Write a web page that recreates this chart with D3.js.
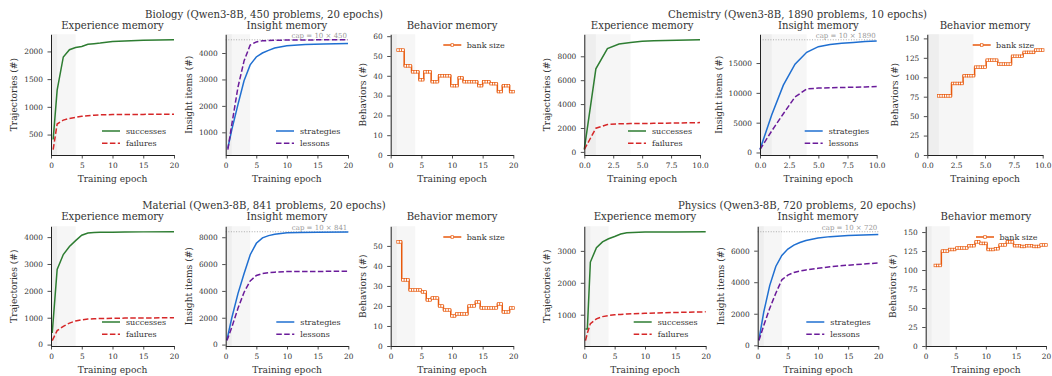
<!DOCTYPE html>
<html>
<head>
<meta charset="utf-8">
<script src="https://cdn.jsdelivr.net/npm/d3@7"></script>
<style>
  body { margin: 0; background: #fff; }
  svg { display: block; font-family: "DejaVu Serif", serif; }
</style>
</head>
<body>
<div id="chart"></div>
<script>
// ---- data ----
const domainTitles = [
  'Biology (Qwen3-8B, 450 problems, 20 epochs)',
  'Chemistry (Qwen3-8B, 1890 problems, 10 epochs)',
  'Material (Qwen3-8B, 841 problems, 20 epochs)',
  'Physics (Qwen3-8B, 720 problems, 20 epochs)'
];
const panelTitles = ['Experience memory', 'Insight memory', 'Behavior memory'];
const xTicks20 = [0, 5, 10, 15, 20];
const xTicks10 = [0, 2.5, 5, 7.5, 10];

// Biology
const bioExpEpoch = [0.35, 1, 2, 3, 4, 5, 6, 7, 8, 10, 12, 15, 20];
const bioSuccesses = [410, 1300, 1900, 2030, 2070, 2090, 2130, 2140, 2150, 2180, 2190, 2200, 2210];
const bioFailures = [230, 690, 760, 790, 810, 830, 840, 850, 855, 860, 862, 864, 865];
const bioInsEpoch = [0.35, 1, 2, 3, 4, 5, 6, 7, 8, 10, 13, 16, 20];
const bioStrategies = [400, 1100, 2050, 2950, 3550, 3850, 4000, 4100, 4190, 4270, 4320, 4340, 4360];
const bioLessons = [350, 1300, 2700, 3700, 4300, 4420, 4460, 4470, 4480, 4490, 4495, 4498, 4500];
const bioCap = 4500;
const bioBank = [53, 53, 53, 45, 45, 45, 42, 42, 42, 38, 38, 42, 42, 42, 37, 37, 37, 40, 40, 40, 40, 40,
  35, 35, 35, 39, 39, 37, 37, 37, 37, 37, 37, 35, 35, 37, 37, 37, 36, 36, 36, 32, 32, 35, 35, 35, 32, 32];

// Chemistry
const chemExpEpoch = [0, 1, 2, 3, 4, 5, 6, 7, 8, 9, 10];
const chemSuccesses = [220, 6950, 8650, 9030, 9150, 9250, 9300, 9330, 9350, 9370, 9380];
const chemFailures = [200, 1980, 2300, 2350, 2370, 2380, 2390, 2400, 2420, 2440, 2450];
const chemInsEpoch = [0, 1, 2, 3, 4, 5, 6, 7, 8, 9, 10];
const chemStrategies = [500, 6300, 11300, 14800, 16800, 17750, 18100, 18300, 18450, 18600, 18700];
const chemLessons = [500, 3600, 6500, 9300, 10650, 10800, 10850, 10900, 10950, 11000, 11050];
const chemCap = 18900;
const chemBank = [76, 76, 76, 76, 76, 76, 92, 92, 92, 92, 92, 102, 102, 102, 102, 102,
  113, 113, 113, 113, 113, 122, 122, 122, 122, 122, 117, 117, 117, 117, 117, 117,
  127, 127, 127, 127, 127, 132, 132, 132, 132, 132, 135, 135, 135, 135];

// Material
const matExpEpoch = [0.2, 1, 2, 3, 4, 5, 6, 7, 8, 10, 12, 15, 20];
const matSuccesses = [430, 2800, 3350, 3650, 3870, 4070, 4150, 4170, 4180, 4185, 4190, 4195, 4200];
const matFailures = [150, 520, 680, 800, 880, 920, 950, 960, 970, 980, 985, 990, 1000];
const matInsEpoch = [0.2, 1, 2, 3, 4, 5, 6, 7, 8, 10, 12, 15, 20];
const matStrategies = [350, 2000, 3800, 5300, 6700, 7550, 7950, 8120, 8220, 8330, 8360, 8375, 8390];
const matLessons = [300, 1300, 2700, 3900, 4750, 5150, 5300, 5360, 5400, 5440, 5450, 5455, 5460];
const matCap = 8410;
const matBank = [52, 52, 33, 33, 33, 28, 28, 28, 28, 28, 27, 27, 23, 23, 24, 24, 24, 20, 20, 18, 18, 18,
  15, 15, 16, 16, 16, 16, 16, 20, 20, 20, 22, 22, 19, 19, 19, 19, 19, 19, 19, 21, 21, 17, 17, 17, 19, 19];

// Physics
const phyExpEpoch = [0.2, 0.5, 1, 2, 3, 4, 5, 6, 7, 8, 10, 15, 20];
const phySuccesses = [550, 550, 2650, 3100, 3280, 3380, 3450, 3530, 3570, 3580, 3590, 3595, 3600];
const phyFailures = [190, 420, 720, 870, 940, 975, 995, 1010, 1020, 1030, 1045, 1070, 1090];
const phyInsEpoch = [0.2, 1, 2, 3, 4, 5, 6, 7, 8, 10, 12, 15, 20];
const phyStrategies = [350, 2100, 3800, 5000, 5700, 6100, 6350, 6520, 6650, 6800, 6890, 6960, 7020];
const phyLessons = [300, 1250, 2350, 3300, 4150, 4450, 4620, 4700, 4780, 4880, 4980, 5080, 5220];
const phyCap = 7200;
const phyBank = [106, 106, 106, 125, 125, 125, 127, 127, 127, 129, 129, 129, 129, 129, 132, 132, 132,
  137, 137, 135, 135, 135, 127, 127, 127, 128, 128, 133, 133, 133, 137, 137, 137, 132, 132, 132,
  131, 131, 132, 132, 132, 131, 131, 131, 133, 133, 133];

// bank size is logged on a regular grid of training steps (first epoch, spacing)
const bioBankGrid = [1.2, 0.4];
const chemBankGrid = [1.0, 0.2];
const matBankGrid = [1.2, 0.4];
const phyBankGrid = [1.6, 0.4];

// ---- styling ----
const GREEN = '#2e7d32', RED = '#d62728', BLUE = '#1f6fd1', PURPLE = '#6a1b9a', ORANGE = '#e8590c';
const TEXT = '#333';
const FS = { sup: 10.15, title: 10.1, label: 9.1, legend: 8, tick: 7.4, cap: 7 };

const svg = d3.select('#chart').append('svg')
  .attr('width', 1052)
  .attr('height', 376);

const rows = [
  { top: 34.3, bottom: 155, supY: 17.5, titleY: 29.2, xlabY: 182.2 },
  { top: 226.3, bottom: 346, supY: 208.5, titleY: 219.6, xlabY: 373.2 }
];

function expPanel(epochs, succ, fail) {
  return { kind: 'line', epochs, series: [
    { name: 'successes', values: succ, color: GREEN, dash: false },
    { name: 'failures', values: fail, color: RED, dash: true }] };
}
function insPanel(epochs, strat, less, cap, n) {
  return { kind: 'line', epochs, cap, capLabel: `cap = 10 × ${n}`, series: [
    { name: 'strategies', values: strat, color: BLUE, dash: false },
    { name: 'lessons', values: less, color: PURPLE, dash: true }] };
}
function bankPanel(values, grid) {
  return { kind: 'bank', values, grid };
}

const groups = [
  { title: domainTitles[0], row: 0, cx: 264, xMax: 20, xTicks: xTicks20, fmt: d3.format('d'),
    panels: [
      Object.assign(expPanel(bioExpEpoch, bioSuccesses, bioFailures), { x0: 51, x1: 174, yTicks: [500, 1000, 1500, 2000], ylabX: 14.3 }),
      Object.assign(insPanel(bioInsEpoch, bioStrategies, bioLessons, bioCap, 450), { x0: 225.7, x1: 348, yTicks: [1000, 2000, 3000, 4000], ylabX: 189 }),
      Object.assign(bankPanel(bioBank, bioBankGrid), { x0: 390.7, x1: 513.3, yTicks: [0, 10, 20, 30, 40, 50, 60], ylabX: 363.3 })
    ] },
  { title: domainTitles[1], row: 0, cx: 797.5, xMax: 10, xTicks: xTicks10, fmt: d3.format('.1f'),
    panels: [
      Object.assign(expPanel(chemExpEpoch, chemSuccesses, chemFailures), { x0: 584.3, x1: 700, yTicks: [0, 2000, 4000, 6000, 8000], ylabX: 546.7 }),
      Object.assign(insPanel(chemInsEpoch, chemStrategies, chemLessons, chemCap, 1890), { x0: 760, x1: 876.7, yTicks: [0, 5000, 10000, 15000], ylabX: 719 }),
      Object.assign(bankPanel(chemBank, chemBankGrid), { x0: 927.3, x1: 1042.7, yTicks: [0, 25, 50, 75, 100, 125, 150], ylabX: 895 })
    ] },
  { title: domainTitles[2], row: 1, cx: 264, xMax: 20, xTicks: xTicks20, fmt: d3.format('d'),
    panels: [
      Object.assign(expPanel(matExpEpoch, matSuccesses, matFailures), { x0: 51, x1: 174, yTicks: [0, 1000, 2000, 3000, 4000], ylabX: 14 }),
      Object.assign(insPanel(matInsEpoch, matStrategies, matLessons, matCap, 841), { x0: 225.7, x1: 348.3, yTicks: [0, 2000, 4000, 6000, 8000], ylabX: 189 }),
      Object.assign(bankPanel(matBank, matBankGrid), { x0: 390.7, x1: 513.3, yTicks: [0, 10, 20, 30, 40, 50], ylabX: 363.3 })
    ] },
  { title: domainTitles[3], row: 1, cx: 797, xMax: 20, xTicks: xTicks20, fmt: d3.format('d'),
    panels: [
      Object.assign(expPanel(phyExpEpoch, phySuccesses, phyFailures), { x0: 584.3, x1: 705.7, yTicks: [1000, 2000, 3000], ylabX: 547.3 }),
      Object.assign(insPanel(phyInsEpoch, phyStrategies, phyLessons, phyCap, 720), { x0: 757.7, x1: 878.3, yTicks: [0, 2000, 4000, 6000], ylabX: 721 }),
      Object.assign(bankPanel(phyBank, phyBankGrid), { x0: 925.7, x1: 1046, yTicks: [0, 25, 50, 75, 100, 125, 150], ylabX: 893.3 })
    ] }
];

const ylabels = ['Trajectories (#)', 'Insight items (#)', 'Behaviors (#)'];

groups.forEach(grp => {
  const row = rows[grp.row];

  svg.append('text')
    .attr('x', grp.cx).attr('y', row.supY)
    .attr('text-anchor', 'middle')
    .attr('font-size', FS.sup).attr('fill', TEXT)
    .text(grp.title);

  grp.panels.forEach((p, i) => {
    const g = svg.append('g');
    const x = d3.scaleLinear().domain([0, grp.xMax]).range([p.x0, p.x1]);

    let y;
    if (p.kind === 'bank') {
      y = d3.scaleLinear().domain([0, d3.max(p.values) * 1.15]).range([row.bottom, row.top]);
    } else {
      const all = p.series.flatMap(s => s.values).concat(p.cap ? [p.cap] : []);
      const [lo, hi] = d3.extent(all);
      const pad = (hi - lo) * 0.05;
      y = d3.scaleLinear().domain([lo - pad, hi + pad]).range([row.bottom, row.top]);
    }

    // warm-up shading
    g.append('rect')
      .attr('x', x(0)).attr('width', x(4) - x(0))
      .attr('y', row.top).attr('height', row.bottom - row.top)
      .attr('fill', '#f6f6f6');
    g.append('rect')
      .attr('x', x(0)).attr('width', x(1) - x(0))
      .attr('y', row.top).attr('height', row.bottom - row.top)
      .attr('fill', '#eeeeee');

    if (p.cap) {
      g.append('line')
        .attr('x1', x(0)).attr('x2', x(grp.xMax))
        .attr('y1', y(p.cap)).attr('y2', y(p.cap))
        .attr('stroke', '#999').attr('stroke-width', 0.8)
        .attr('stroke-dasharray', '1,1.6');
      g.append('text')
        .attr('x', p.x1 - 1).attr('y', y(p.cap) - 2)
        .attr('text-anchor', 'end')
        .attr('font-size', FS.cap).attr('fill', '#999')
        .text(p.capLabel);
    }

    if (p.kind === 'line') {
      const line = d3.line().x((d, j) => x(p.epochs[j])).y(d => y(d));
      p.series.forEach(s => {
        g.append('path')
          .attr('d', line(s.values))
          .attr('fill', 'none')
          .attr('stroke', s.color)
          .attr('stroke-width', 1.5)
          .attr('stroke-dasharray', s.dash ? '5.5,2.4' : null);
      });
      // legend, lower right
      p.series.forEach((s, k) => {
        const ly = row.bottom - 24 + k * 12.3;
        g.append('line')
          .attr('x1', p.x1 - 72).attr('x2', p.x1 - 54)
          .attr('y1', ly).attr('y2', ly)
          .attr('stroke', s.color).attr('stroke-width', 1.5)
          .attr('stroke-dasharray', s.dash ? '5.5,2.4' : null);
        g.append('text')
          .attr('x', p.x1 - 48).attr('y', ly + 2.8)
          .attr('font-size', FS.legend).attr('fill', TEXT)
          .text(s.name);
      });
    } else {
      const [start, step] = p.grid;
      const ex = j => start + j * step;
      const line = d3.line().curve(d3.curveStep).x((d, j) => x(ex(j))).y(d => y(d));
      g.append('path')
        .attr('d', line(p.values))
        .attr('fill', 'none')
        .attr('stroke', ORANGE)
        .attr('stroke-width', 1.5);
      g.selectAll('rect.mk')
        .data(p.values)
        .join('rect')
        .attr('class', 'mk')
        .attr('x', (d, j) => x(ex(j)) - 1.3)
        .attr('y', d => y(d) - 1.3)
        .attr('width', 2.6).attr('height', 2.6)
        .attr('fill', '#fff')
        .attr('stroke', ORANGE)
        .attr('stroke-width', 0.7);
      // legend, upper right
      const ly = row.top + 10.7;
      g.append('line')
        .attr('x1', p.x1 - 70).attr('x2', p.x1 - 52)
        .attr('y1', ly).attr('y2', ly)
        .attr('stroke', ORANGE).attr('stroke-width', 1.5);
      g.append('rect')
        .attr('x', p.x1 - 62.3).attr('y', ly - 1.3)
        .attr('width', 2.6).attr('height', 2.6)
        .attr('fill', '#fff').attr('stroke', ORANGE).attr('stroke-width', 0.7);
      g.append('text')
        .attr('x', p.x1 - 46.6).attr('y', ly + 2.8)
        .attr('font-size', FS.legend).attr('fill', TEXT)
        .text('bank size');
    }

    // axes
    const xAxis = d3.axisBottom(x).tickValues(grp.xTicks).tickFormat(grp.fmt)
      .tickSize(3.5).tickSizeOuter(0).tickPadding(4.3);
    const yAxis = d3.axisLeft(y).tickValues(p.yTicks).tickFormat(d3.format('d'))
      .tickSize(3.5).tickSizeOuter(0).tickPadding(4.5);

    const gx = g.append('g').attr('transform', `translate(0,${row.bottom})`).call(xAxis);
    const gy = g.append('g').attr('transform', `translate(${p.x0},0)`).call(yAxis);
    [gx, gy].forEach(a => {
      a.attr('font-family', null).attr('font-size', FS.tick);
      a.select('.domain').attr('stroke', '#222').attr('stroke-width', 1);
      a.selectAll('.tick line').attr('stroke', '#222').attr('stroke-width', 0.8);
      a.selectAll('.tick text').attr('fill', TEXT);
    });

    g.append('text')
      .attr('x', (p.x0 + p.x1) / 2).attr('y', row.titleY)
      .attr('text-anchor', 'middle')
      .attr('font-size', FS.title).attr('fill', TEXT)
      .text(panelTitles[i]);

    g.append('text')
      .attr('x', (p.x0 + p.x1) / 2).attr('y', row.xlabY)
      .attr('text-anchor', 'middle')
      .attr('font-size', FS.label).attr('fill', TEXT)
      .text('Training epoch');

    g.append('text')
      .attr('transform', `translate(${p.ylabX},${(row.top + row.bottom) / 2}) rotate(-90)`)
      .attr('text-anchor', 'middle')
      .attr('dy', '0.35em')
      .attr('font-size', FS.label).attr('fill', TEXT)
      .text(ylabels[i]);
  });
});
</script>
</body>
</html>
